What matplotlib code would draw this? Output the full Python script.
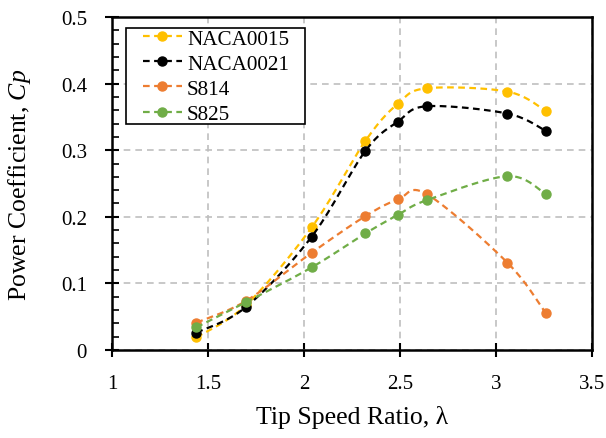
import numpy as np
import matplotlib
matplotlib.use("Agg")
import matplotlib.pyplot as plt
from matplotlib.ticker import MultipleLocator
from matplotlib.patches import Rectangle

plt.rcParams['font.family'] = ['Liberation Serif', 'DejaVu Serif']
plt.rcParams['mathtext.fontset'] = 'custom'
plt.rcParams['mathtext.it'] = 'Liberation Serif:italic'
plt.rcParams['mathtext.rm'] = 'Liberation Serif'

# tip speed ratio for each measured point
tsr = [1.44, 1.70, 2.04, 2.32, 2.49, 2.64, 3.06, 3.26]

# power coefficient per blade profile
naca0015 = [0.019, 0.068, 0.184, 0.314, 0.370, 0.393, 0.388, 0.359]
naca0021 = [0.026, 0.065, 0.170, 0.299, 0.343, 0.366, 0.355, 0.329]
s814 = [0.041, 0.074, 0.146, 0.201, 0.226, 0.234, 0.131, 0.055]
s825 = [0.034, 0.072, 0.124, 0.175, 0.203, 0.225, 0.261, 0.234]

names = ['NACA0015', 'NACA0021', 'S814', 'S825']
colors = ['#FFC000', '#000000', '#ED7D31', '#70AD47']


def smooth(x, y, n=30):
    # excel style smoothed line: bezier segments through every point
    p = np.column_stack([x, y]).astype(float)
    ext = np.vstack([p[0], p, p[-1]])
    out = []
    t = np.linspace(0, 1, n)[:, None]
    for i in range(len(p) - 1):
        p0, p1, p2, p3 = ext[i], ext[i + 1], ext[i + 2], ext[i + 3]
        c1 = p1 + (p2 - p0) / 6
        c2 = p2 - (p3 - p1) / 6
        seg = ((1 - t) ** 3) * p1 + 3 * ((1 - t) ** 2) * t * c1 + 3 * (1 - t) * t ** 2 * c2 + t ** 3 * p2
        out.append(seg if i == 0 else seg[1:])
    out = np.vstack(out)
    return out[:, 0], out[:, 1]


fig = plt.figure(figsize=(6.06, 4.39), dpi=100)
ax = fig.add_axes([0.1848, 0.2005, 0.792, 0.7585])

for vals, name, c in zip([naca0015, naca0021, s814, s825], names, colors):
    sx, sy = smooth(tsr, vals)
    ax.plot(sx, sy, '--', color=c, lw=1.6, dashes=(3, 2))
    ax.plot(tsr, vals, 'o', color=c, ms=6.5)
    ax.plot([], [], '--o', color=c, lw=1.6, ms=6.5, dashes=(3, 2), label=name)

ax.set_xlim(1, 3.5)
ax.set_ylim(0, 0.5)
ax.yaxis.set_minor_locator(MultipleLocator(0.02))
ax.set_xticks([1, 1.5, 2, 2.5, 3, 3.5])
ax.set_xticklabels(['1', '1.5', '2', '2.5', '3', '3.5'])
ax.set_yticks([0, 0.1, 0.2, 0.3, 0.4, 0.5])
ax.set_yticklabels(['0', '0.1', '0.2', '0.3', '0.4', '0.5'])

ax.grid(True, which='major', color='#BFBFBF', ls=(0, (4, 3)), lw=1.2)
ax.set_axisbelow(True)
for s in ax.spines.values():
    s.set_linewidth(1.8)
ax.tick_params(which='major', direction='inout', length=10, width=1.5, labelsize=15)
ax.tick_params(axis='x', pad=12)
ax.tick_params(axis='y', pad=13)
ax.tick_params(axis='y', which='minor', direction='in', length=5, width=1.2)

ax.set_xlabel('Tip Speed Ratio, λ', fontsize=18.5, labelpad=9)
ax.set_ylabel('Power Coefficient, $\\mathit{Cp}$', fontsize=18.5, labelpad=20)

# legend frame drawn separately so the padding matches the original
frame = Rectangle((0.0292, 0.679), 0.373, 0.288, transform=ax.transAxes, facecolor='white',
                  edgecolor='black', lw=1.2, zorder=4)
ax.add_patch(frame)
leg = ax.legend(loc='upper left', bbox_to_anchor=(0.064, 0.964), fontsize=15.2, frameon=False,
                handlelength=1.85, borderpad=0, labelspacing=0.25, handletextpad=0.25,
                borderaxespad=0)
leg.set_zorder(5)

fig.savefig('out.png', dpi=100, facecolor='white')
